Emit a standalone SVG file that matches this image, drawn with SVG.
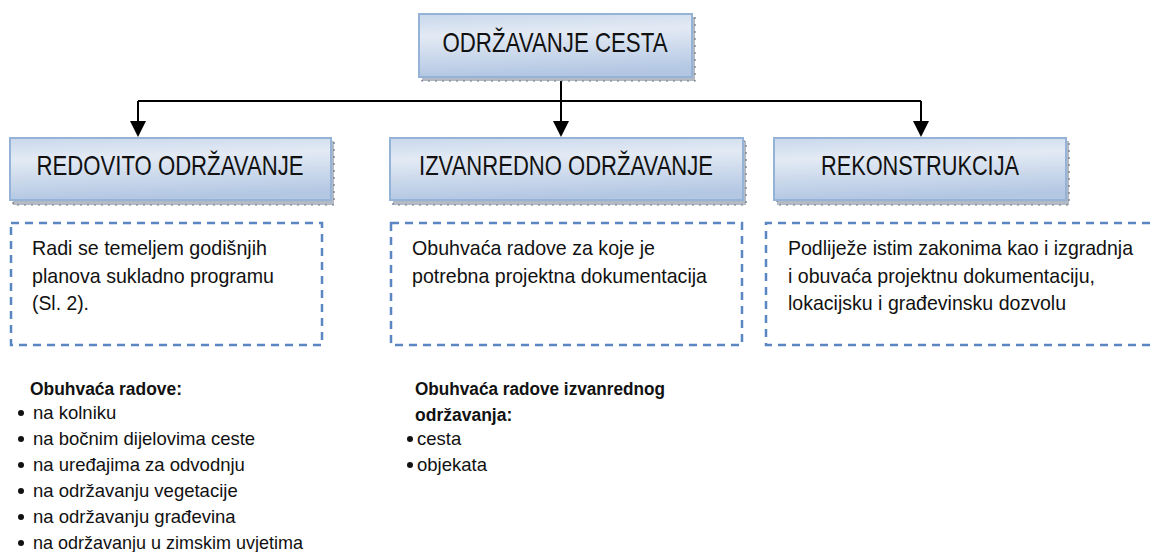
<svg xmlns="http://www.w3.org/2000/svg" width="1157" height="552" viewBox="0 0 1157 552">
<style>
.hd{font-family:"Liberation Sans",Arial,sans-serif;font-size:28px;fill:#111;text-anchor:middle}
.bx{fill:url(#g);stroke:#95b3d7;stroke-width:2}
.sh{fill:#b4bac4;stroke:#6b7586;stroke-width:1.2;stroke-dasharray:2 5}
.ds{fill:none;stroke:#5a87c2;stroke-width:2.5;stroke-dasharray:8 6}
.tx{font-family:"Liberation Sans",Arial,sans-serif;font-size:21px;fill:#111}
.ls{font-family:"Liberation Sans",Arial,sans-serif;font-size:18.5px;fill:#111}
.lb{font-family:"Liberation Sans",Arial,sans-serif;font-size:17.5px;font-weight:bold;fill:#111}
.cn{fill:none;stroke:#000;stroke-width:2}
.bu{fill:#111}
</style>
<defs>
<linearGradient id="g" x1="0" y1="0" x2="0.15" y2="1">
<stop offset="0" stop-color="#c9d8ec"/>
<stop offset="0.35" stop-color="#e3eaf4"/>
<stop offset="1" stop-color="#b3c7e3"/>
</linearGradient>
</defs>

<g id="connectors">
<line class="cn" x1="561" y1="78" x2="561" y2="101"/>
<line class="cn" x1="138" y1="101" x2="921" y2="101"/>
<path class="cn" d="M138,101 V121"/>
<path d="M130,121 L146,121 L138,137 Z" fill="#000"/>
<path class="cn" d="M561,101 V121"/>
<path d="M553,121 L569,121 L561,137 Z" fill="#000"/>
<path class="cn" d="M921,101 V121"/>
<path d="M913,121 L929,121 L921,137 Z" fill="#000"/>
</g>

<g id="node-odrzavanje-cesta">
<rect class="sh" x="422" y="17" width="273" height="64"/>
<rect class="bx" x="419" y="14" width="273" height="63"/>
<text class="hd" x="555" y="52" textLength="225" lengthAdjust="spacingAndGlyphs">ODRŽAVANJE CESTA</text>
</g>

<g id="node-redovito">
<rect class="sh" x="13" y="141" width="321" height="64"/>
<rect class="bx" x="10" y="138" width="321" height="62"/>
<text class="hd" x="170" y="175" textLength="267" lengthAdjust="spacingAndGlyphs">REDOVITO ODRŽAVANJE</text>
</g>

<g id="node-izvanredno">
<rect class="sh" x="393" y="141" width="353" height="64"/>
<rect class="bx" x="390" y="138" width="353" height="62"/>
<text class="hd" x="566" y="175" textLength="294" lengthAdjust="spacingAndGlyphs">IZVANREDNO ODRŽAVANJE</text>
</g>

<g id="node-rekonstrukcija">
<rect class="sh" x="777" y="141" width="292" height="64"/>
<rect class="bx" x="774" y="138" width="292" height="62"/>
<text class="hd" x="920" y="175" textLength="198" lengthAdjust="spacingAndGlyphs">REKONSTRUKCIJA</text>
</g>

<g id="desc-redovito">
<rect class="ds" x="11" y="223" width="311" height="122"/>
<text class="tx" x="32" y="255" textLength="235" lengthAdjust="spacingAndGlyphs">Radi se temeljem godišnjih</text>
<text class="tx" x="32" y="283" textLength="242" lengthAdjust="spacingAndGlyphs">planova sukladno programu</text>
<text class="tx" x="32" y="310" textLength="57" lengthAdjust="spacingAndGlyphs">(Sl. 2).</text>
</g>

<g id="desc-izvanredno">
<rect class="ds" x="391" y="223" width="351" height="122"/>
<text class="tx" x="412" y="255" textLength="243" lengthAdjust="spacingAndGlyphs">Obuhvaća radove za koje je</text>
<text class="tx" x="412" y="283" textLength="295" lengthAdjust="spacingAndGlyphs">potrebna projektna dokumentacija</text>
</g>

<g id="desc-rekonstrukcija">
<path class="ds" d="M1150,223 H766 V345 H1150"/>
<text class="tx" x="788" y="255" textLength="345" lengthAdjust="spacingAndGlyphs">Podliježe istim zakonima kao i izgradnja</text>
<text class="tx" x="788" y="283" textLength="307" lengthAdjust="spacingAndGlyphs">i obuvaća projektnu dokumentaciju,</text>
<text class="tx" x="788" y="310" textLength="278" lengthAdjust="spacingAndGlyphs">lokacijsku i građevinsku dozvolu</text>
</g>

<g id="list-redovito">
<text class="lb" x="30" y="395" textLength="152" lengthAdjust="spacingAndGlyphs">Obuhvaća radove:</text>
<circle class="bu" cx="21" cy="413" r="3"/>
<text class="ls" x="33" y="419">na kolniku</text>
<circle class="bu" cx="21" cy="439" r="3"/>
<text class="ls" x="33" y="445">na bočnim dijelovima ceste</text>
<circle class="bu" cx="21" cy="465" r="3"/>
<text class="ls" x="33" y="471">na uređajima za odvodnju</text>
<circle class="bu" cx="21" cy="491" r="3"/>
<text class="ls" x="33" y="497">na održavanju vegetacije</text>
<circle class="bu" cx="21" cy="517" r="3"/>
<text class="ls" x="33" y="523">na održavanju građevina</text>
<circle class="bu" cx="21" cy="543" r="3"/>
<text class="ls" x="33" y="549" textLength="270" lengthAdjust="spacingAndGlyphs">na održavanju u zimskim uvjetima</text>
</g>

<g id="list-izvanredno">
<text class="lb" x="415" y="395" textLength="250" lengthAdjust="spacingAndGlyphs">Obuhvaća radove izvanrednog</text>
<text class="lb" x="415" y="421">održavanja:</text>
<circle class="bu" cx="410" cy="439" r="3"/>
<text class="ls" x="417" y="445">cesta</text>
<circle class="bu" cx="410" cy="465" r="3"/>
<text class="ls" x="417" y="471">objekata</text>
</g>
</svg>
